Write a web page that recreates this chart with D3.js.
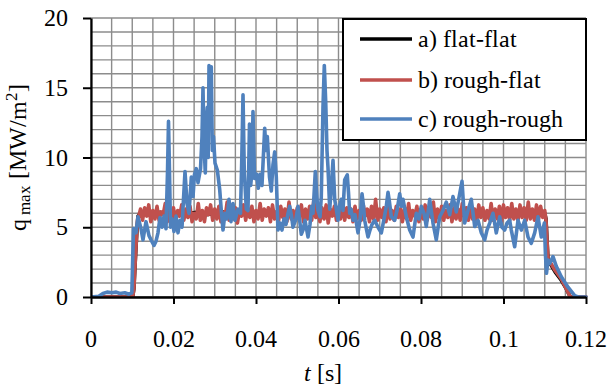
<!DOCTYPE html>
<html>
<head>
<meta charset="utf-8">
<script src="https://cdn.jsdelivr.net/npm/d3@7"></script>
<style>
  @font-face { font-family: "ChartSerif"; src: local("Liberation Serif"), local("LiberationSerif-Regular"); font-style: normal; }
  @font-face { font-family: "ChartSerif"; src: local("Liberation Serif Italic"), local("LiberationSerif-Italic"); font-style: italic; }
  .lbl { font-family: ChartSerif, "Liberation Serif", serif; }
</style>
</head>
<body style="margin:0">
<svg id="chart" width="614" height="387"></svg>
<script>
// Axis ticks and labels
const xTicks = [0, 0.02, 0.04, 0.06, 0.08, 0.1, 0.12];
const xTickLabels = ["0", "0.02", "0.04", "0.06", "0.08", "0.1", "0.12"];
const yTicks = [0, 5, 10, 15, 20];
const yTickLabels = ["0", "5", "10", "15", "20"];

// Series names and colours
const seriesNames = ["a) flat-flat", "b) rough-flat", "c) rough-rough"];
const seriesColors = ["#000000", "#c0504d", "#4f81bd"];

// a) flat-flat: ramp-up, steady part sampled every 2 ms, ramp-down
const flatRampUpT = [0, 0.0101, 0.0104, 0.0108, 0.0111, 0.0114];
const flatRampUpQ = [0, 0, 0.6, 3.0, 4.6, 5.8];
const flatSampleStart = 0.012;
const flatSampleStep = 0.002;
const flatSteadyQ = [6.0, 5.9, 6.1, 6.0, 5.9, 6.1, 6.0, 6.1, 5.9, 6.0,
                     6.1, 5.9, 6.0, 6.1, 6.0, 5.9, 6.1, 6.0, 5.9, 6.0,
                     6.1, 6.0, 5.9, 6.1, 6.0, 6.0, 5.9, 6.1, 6.0, 5.9,
                     6.1, 6.0, 5.9, 6.0, 6.1, 6.0, 5.9, 6.1, 6.0, 5.9,
                     6.0, 6.1, 5.9, 6.0, 6.1, 6.0, 5.9, 6.0, 6.1];
const flatRampDownT = [0.1100, 0.1103, 0.1108, 0.1115, 0.1125, 0.1140, 0.1152, 0.1162, 0.12];
const flatRampDownQ = [6.0, 5.6, 2.6, 2.3, 1.8, 1.2, 0.6, 0, 0];

// b) rough-flat: ramp-up, steady part sampled every 0.5 ms, ramp-down
const roughFlatRampUpT = [0, 0.0101, 0.0104, 0.0108, 0.0111, 0.0113];
const roughFlatRampUpQ = [0, 0, 0.6, 3.0, 4.6, 5.6];
const roughFlatSampleStart = 0.0115;
const roughFlatSampleStep = 0.0005;
const roughFlatSteadyQ = [
  5.7, 6.3, 5.5, 6.4, 5.8, 6.6, 5.4, 6.2, 5.6, 6.5, 5.5, 6.1, 5.9, 6.7, 5.4, 6.3, 5.6, 6.4, 5.3, 6.2,
  5.8, 6.6, 5.5, 6.3, 5.7, 6.5, 5.4, 6.0, 5.6, 6.7, 5.5, 6.2, 5.4, 6.4, 5.9, 6.6, 5.5, 6.3, 5.6, 6.5,
  5.4, 6.1, 5.7, 6.8, 5.5, 6.3, 5.6, 6.4, 5.3, 6.2, 5.8, 6.6, 5.5, 6.4, 5.7, 6.5, 5.4, 6.2, 5.6, 6.7,
  5.5, 6.3, 5.8, 6.4, 5.4, 6.6, 5.6, 6.1, 5.5, 6.5, 5.7, 6.3, 5.4, 6.8, 5.6, 6.2, 5.5, 6.4, 5.8, 6.6,
  5.4, 6.3, 5.6, 6.5, 5.5, 6.9, 5.7, 6.2, 5.4, 6.4, 5.6, 6.6, 5.3, 6.3, 5.8, 6.5, 5.5, 6.2, 5.6, 6.7,
  5.5, 6.4, 5.7, 6.3, 5.4, 6.5, 5.6, 6.2, 5.5, 6.6, 5.8, 6.3, 5.4, 6.5, 5.6, 7.0, 5.5, 6.3, 5.7, 6.4,
  5.4, 6.6, 5.6, 6.2, 5.5, 6.5, 5.7, 6.3, 5.4, 6.4, 5.6, 6.7, 5.5, 6.2, 5.8, 6.5, 5.4, 6.3, 5.6, 6.6,
  5.5, 6.4, 5.7, 6.8, 5.4, 6.3, 5.6, 6.5, 5.5, 6.2, 5.7, 6.6, 5.4, 6.4, 5.6, 6.3, 5.5, 6.7, 5.8, 6.4,
  5.5, 6.5, 5.6, 6.3, 5.4, 6.6, 5.7, 6.4, 5.5, 6.2, 5.6, 6.7, 5.5, 6.3, 5.6, 6.5, 5.4, 6.6, 5.7, 6.4,
  5.5, 6.7, 5.6, 6.3, 5.5, 6.6, 5.7, 6.4, 5.5, 6.8, 5.6, 6.3, 5.5, 6.6, 5.6, 6.5, 5.7
];
const roughFlatRampDownT = [0.1100, 0.1103, 0.1108, 0.1115, 0.1125, 0.1140, 0.1152, 0.1162, 0.12];
const roughFlatRampDownQ = [6.2, 5.5, 2.65, 2.4, 1.9, 1.3, 0.6, 0, 0];

// c) rough-rough: time [s] and peak heat flux [MW/m^2]
const roughRoughT = [
  0, 0.0019, 0.0029, 0.0039, 0.0051, 0.0061, 0.0070, 0.0082, 0.0092, 0.0099,
  0.0103, 0.01091, 0.01139, 0.01212, 0.01261, 0.01333, 0.01406, 0.01455, 0.01527, 0.01576,
  0.01624, 0.01673, 0.01721, 0.01770, 0.01818, 0.01855, 0.01879, 0.01903, 0.01927, 0.01964,
  0.02012, 0.02061, 0.02109, 0.02158, 0.02206, 0.02242, 0.02279, 0.02327, 0.02376, 0.02432,
  0.02473, 0.02509, 0.02553, 0.02594, 0.02655, 0.02691, 0.02715, 0.02739, 0.02771, 0.02795,
  0.02819, 0.02841, 0.02861, 0.02885, 0.02916, 0.02941, 0.02970, 0.03006, 0.03062, 0.03120,
  0.03164, 0.03200, 0.03248, 0.03297, 0.03345, 0.03394, 0.03442, 0.03491, 0.03564, 0.03624,
  0.03656, 0.03685, 0.03716, 0.03765, 0.03806, 0.03842, 0.03871, 0.03903, 0.03927, 0.03964,
  0.04012, 0.04056, 0.04097, 0.04145, 0.04211, 0.04242, 0.04274, 0.04327, 0.04371, 0.04412,
  0.04453, 0.04492, 0.04533, 0.04582, 0.04630, 0.04679, 0.04727, 0.04776, 0.04817, 0.04861,
  0.04897, 0.04970, 0.05018, 0.05098, 0.05139, 0.05188, 0.05261, 0.05309, 0.05350, 0.05382,
  0.05438, 0.05479, 0.05503, 0.05552, 0.05583, 0.05624, 0.05656, 0.05690, 0.05721, 0.05745,
  0.05787, 0.05818, 0.05867, 0.05908, 0.05952, 0.05988, 0.06024, 0.06068, 0.06109, 0.06150,
  0.06213, 0.06242, 0.06271, 0.06303, 0.06352, 0.06400, 0.06473, 0.06521, 0.06570, 0.06606,
  0.06635, 0.06667, 0.06715, 0.06764, 0.06812, 0.06877, 0.06958, 0.07038, 0.07091, 0.07159,
  0.07200, 0.07236, 0.07280, 0.07362, 0.07418, 0.07484, 0.07527, 0.07564, 0.07644, 0.07726,
  0.07806, 0.07886, 0.07952, 0.08007, 0.08073, 0.08128, 0.08211, 0.08291, 0.08371, 0.08453,
  0.08533, 0.08613, 0.08696, 0.08776, 0.08856, 0.08938, 0.08994, 0.09059, 0.09139, 0.09219,
  0.09302, 0.09382, 0.09462, 0.09544, 0.09600, 0.09665, 0.09745, 0.09825, 0.09908, 0.09964,
  0.10029, 0.10085, 0.10150, 0.10189, 0.10271, 0.10352, 0.10432, 0.10514, 0.10594, 0.10674,
  0.10756, 0.10836, 0.10916, 0.10990, 0.11018, 0.11042, 0.11079, 0.11120, 0.11200, 0.11280,
  0.11401, 0.11564, 0.11726, 0.11806, 0.12
];
const roughRoughQ = [
  0, 0.05, 0.25, 0.35, 0.3, 0.35, 0.25, 0.3, 0.2, 0.3,
  4.9, 4.6, 5.75, 4.9, 4.1, 5.4, 4.4, 4.1, 3.7, 4.0,
  4.6, 5.7, 5.0, 5.8, 4.9, 9.0, 12.6, 9.0, 5.0, 5.6,
  4.7, 5.8, 4.6, 5.5, 5.0, 7.0, 9.0, 6.7, 6.0, 8.6,
  7.2, 8.8, 9.2, 8.2, 9.2, 11.5, 15.0, 11.0, 8.9, 12.5,
  13.6, 10.0, 16.6, 14.0, 16.5, 10.5, 11.5, 9.6, 9.1, 7.7,
  6.0, 4.8, 6.0, 5.6, 7.0, 5.4, 6.7, 5.5, 6.3, 6.0,
  10.0, 14.5, 9.0, 6.3, 6.2, 12.4, 8.0, 9.0, 13.3, 8.5,
  8.8, 7.8, 8.8, 8.0, 12.1, 10.5, 11.5, 8.6, 7.6, 9.5,
  10.4, 8.6, 4.8, 5.3, 4.8, 5.6, 5.2, 6.0, 6.5, 5.8,
  5.0, 5.6, 6.5, 4.5, 4.8, 5.5, 4.3, 5.2, 6.5, 6.0,
  9.0, 7.0, 6.2, 5.75, 7.2, 13.6, 16.6, 14.0, 10.5, 9.3,
  6.3, 7.5, 9.8, 7.0, 6.2, 5.5, 6.5, 7.0, 6.2, 8.4,
  8.75, 7.5, 6.0, 6.3, 5.5, 5.9, 4.6, 5.5, 7.4, 6.5,
  5.5, 5.0, 4.3, 4.8, 5.2, 5.5, 5.0, 4.6, 5.4, 6.5,
  7.5, 6.8, 5.75, 5.5, 6.2, 7.4, 6.5, 7.0, 5.75, 4.8,
  4.3, 6.0, 5.6, 6.5, 6.0, 5.05, 7.0, 5.3, 4.1, 5.75,
  6.2, 6.8, 5.9, 7.2, 6.1, 7.4, 8.3, 5.3, 6.2, 7.0,
  5.05, 5.5, 4.6, 4.1, 4.8, 5.3, 6.0, 4.6, 5.75, 5.0,
  4.8, 5.3, 5.5, 4.8, 3.6, 5.5, 4.8, 5.5, 4.3, 3.85,
  4.6, 5.75, 4.3, 5.3, 3.0, 1.7, 2.65, 2.4, 2.9, 2.2,
  1.45, 0.7, 0.1, 0, 0
];

// Build point lists
function sampled(start, step, values) {
  return values.map((q, i) => [start + i * step, q]);
}
function paired(ts, qs) {
  return ts.map((t, i) => [t, qs[i]]);
}
const flatFlat = [].concat(
  paired(flatRampUpT, flatRampUpQ),
  sampled(flatSampleStart, flatSampleStep, flatSteadyQ),
  paired(flatRampDownT, flatRampDownQ)
);
const roughFlat = [].concat(
  paired(roughFlatRampUpT, roughFlatRampUpQ),
  sampled(roughFlatSampleStart, roughFlatSampleStep, roughFlatSteadyQ),
  paired(roughFlatRampDownT, roughFlatRampDownQ)
);
const roughRough = paired(roughRoughT, roughRoughQ);
const allSeries = [flatFlat, roughFlat, roughRough];

// Layout
const plotLeft = 91, plotRight = 586, plotTop = 18, plotBottom = 297;
const FONT = 24;

const svg = d3.select("#chart");
const x = d3.scaleLinear().domain([0, 0.12]).range([plotLeft, plotRight]);
const y = d3.scaleLinear().domain([0, 20]).range([plotBottom, plotTop]);

// Text helper: Times-style serif face
function label(parent, str, size) {
  return parent.append("text")
    .attr("class", "lbl")
    .attr("font-family", "Liberation Serif")
    .attr("font-size", size)
    .attr("fill", "#000")
    .text(str);
}

// Grid
const grid = svg.append("g").attr("stroke", "#8c8c8c").attr("stroke-width", 1.4);
d3.range(0, 0.12 + 1e-9, 0.005).forEach(v => {
  grid.append("line")
    .attr("x1", x(v)).attr("x2", x(v))
    .attr("y1", y(0)).attr("y2", y(20));
});
d3.range(0, 21, 1).forEach(v => {
  grid.append("line")
    .attr("x1", x(0)).attr("x2", x(0.12))
    .attr("y1", y(v)).attr("y2", y(v));
});

// Series
svg.append("defs").append("clipPath").attr("id", "plotClip")
  .append("rect").attr("x", plotLeft).attr("y", plotTop - 4)
  .attr("width", plotRight - plotLeft + 4).attr("height", plotBottom - plotTop + 4);

const line = d3.line().x(d => x(d[0])).y(d => y(d[1]));
const seriesG = svg.append("g").attr("clip-path", "url(#plotClip)");
allSeries.forEach((data, i) => {
  seriesG.append("path")
    .datum(data)
    .attr("fill", "none")
    .attr("stroke", seriesColors[i])
    .attr("stroke-width", 3.6)
    .attr("stroke-linejoin", "round")
    .attr("stroke-linecap", "round")
    .attr("d", line);
});

// Axes: lines and ticks from d3 axes, labels drawn as plain texts
const yAxis = d3.axisLeft(y).tickValues(yTicks).tickFormat("").tickSize(8).tickSizeOuter(0);
const yG = svg.append("g").attr("transform", `translate(${plotLeft},0)`).call(yAxis);
yG.select(".domain").attr("stroke", "#000").attr("stroke-width", 2.2);
yG.selectAll(".tick line").attr("stroke", "#000").attr("stroke-width", 2);
yG.selectAll(".tick text").remove();
yTicks.forEach((v, i) => {
  label(svg, yTickLabels[i], FONT)
    .attr("x", plotLeft - 23).attr("y", y(v) + 8)
    .attr("text-anchor", "end");
});

const xAxis = d3.axisBottom(x).tickValues(xTicks).tickFormat("").tickSize(7).tickSizeOuter(0);
const xG = svg.append("g").attr("transform", `translate(0,${plotBottom})`).call(xAxis);
xG.select(".domain").attr("stroke", "#000").attr("stroke-width", 2.6);
xG.selectAll(".tick line").attr("stroke", "#000").attr("stroke-width", 2);
xG.selectAll(".tick text").remove();
xTicks.forEach((v, i) => {
  label(svg, xTickLabels[i], FONT)
    .attr("x", x(v)).attr("y", plotBottom + 50)
    .attr("text-anchor", "middle");
});

// Axis titles
const xTitle = label(svg, null, FONT)
  .attr("x", 323).attr("y", 381)
  .attr("text-anchor", "middle");
xTitle.append("tspan").attr("font-style", "italic").text("t");
xTitle.append("tspan").text(" [s]");

const yTitle = label(svg, null, FONT)
  .attr("transform", `translate(26,157) rotate(-90)`)
  .attr("text-anchor", "middle");
yTitle.append("tspan").text("q");
yTitle.append("tspan").attr("dy", 4).attr("font-size", 17).text(" max");
yTitle.append("tspan").attr("dy", -4).text(" [MW/m");
yTitle.append("tspan").attr("dy", -9).attr("font-size", 17).text("2");
yTitle.append("tspan").attr("dy", 9).text("]");

// Legend
const legend = svg.append("g");
legend.append("rect")
  .attr("x", 343).attr("y", 19).attr("width", 243).attr("height", 121)
  .attr("fill", "#fff").attr("stroke", "#000").attr("stroke-width", 2);
const legendRowY = [39, 80, 119];
seriesNames.forEach((name, i) => {
  legend.append("line")
    .attr("x1", 360).attr("x2", 412)
    .attr("y1", legendRowY[i]).attr("y2", legendRowY[i])
    .attr("stroke", seriesColors[i]).attr("stroke-width", 3.6);
  label(legend, name, FONT)
    .attr("x", 418).attr("y", legendRowY[i] + 8);
});
</script>
</body>
</html>
